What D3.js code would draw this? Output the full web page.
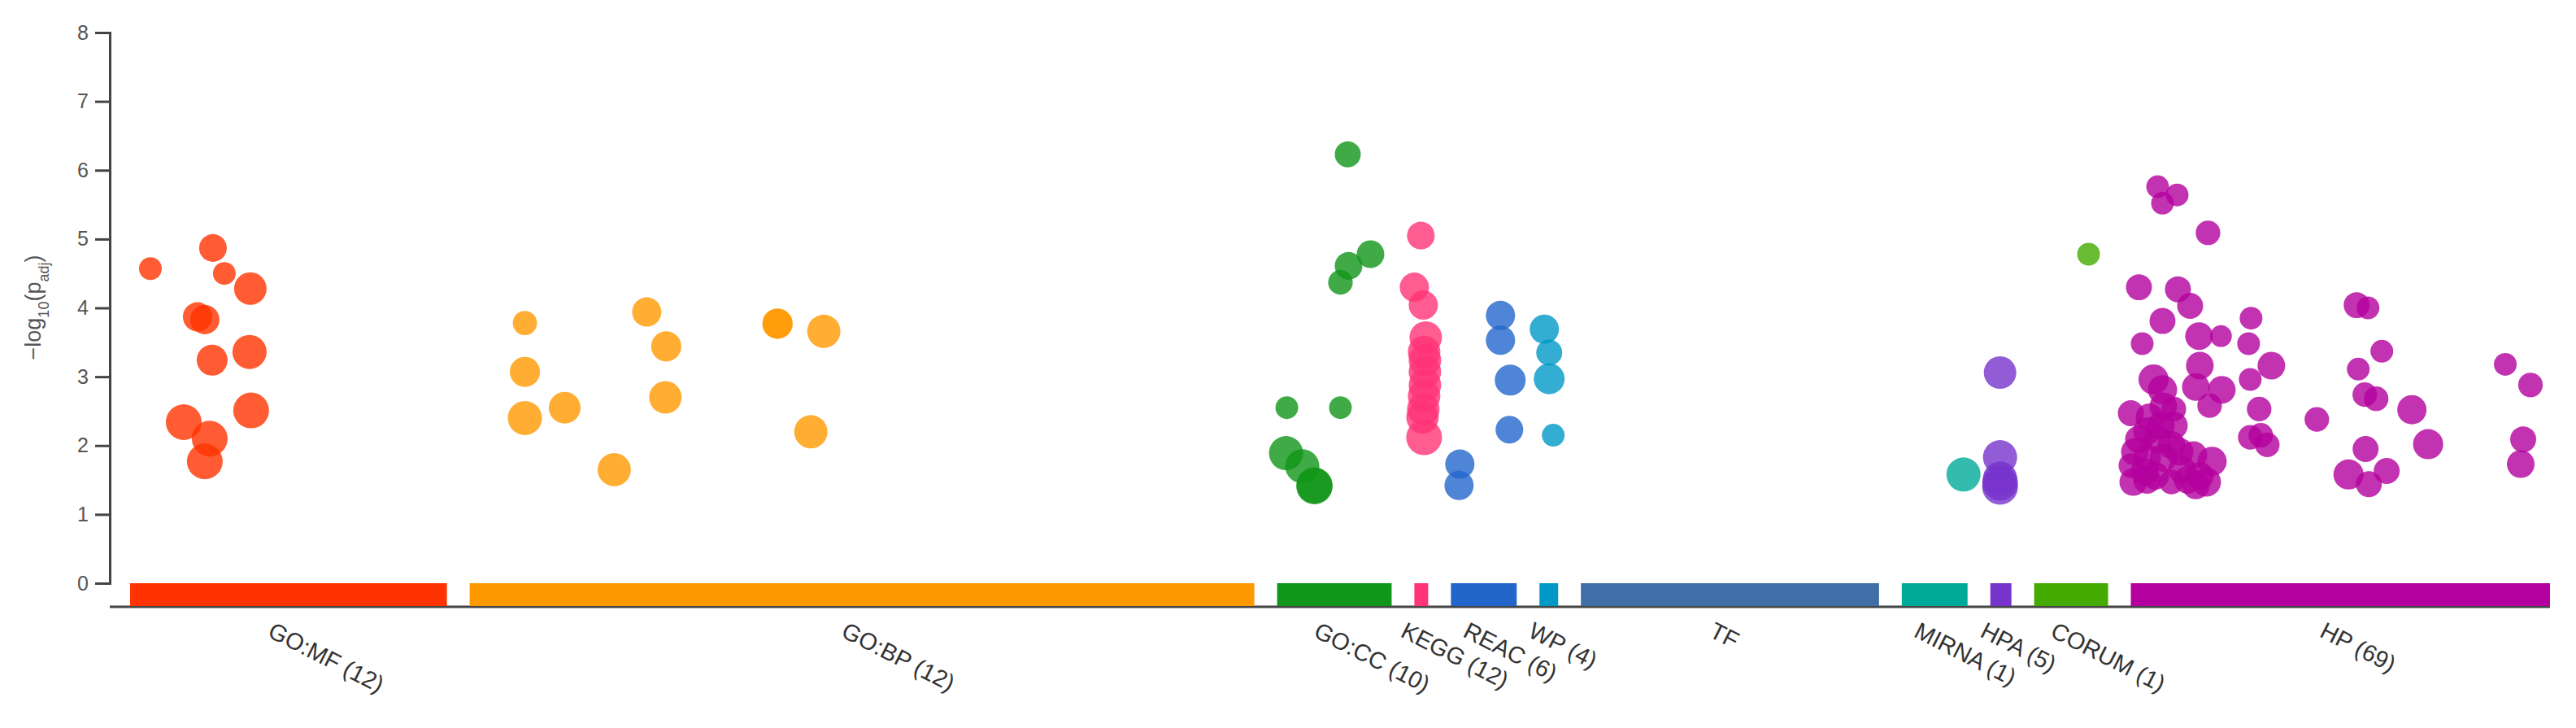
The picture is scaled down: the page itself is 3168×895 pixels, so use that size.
<!DOCTYPE html>
<meta charset="utf-8">
<style>
body { margin: 0; background: #fff; }
text { font-family: "Liberation Sans", Arial, sans-serif; }
.axis path, .axis line { stroke: #444; stroke-width: 3px; }
.axis text { font-size: 25px; fill: #555; }
.dots circle { fill-opacity: 0.8; }
</style>
<svg width="3168" height="895"></svg>
<script src="https://d3js.org/d3.v7.min.js"></script>
<script>

// sources, their term-space widths and the number of significant terms
var sources = ["GO:MF", "GO:BP", "GO:CC", "KEGG", "REAC", "WP", "TF", "MIRNA", "HPA", "CORUM", "HP"];
var sourceSizes = [390, 966, 141, 17, 81, 23, 367, 81, 26, 91, 516];
var sourceCounts = [12, 12, 10, 12, 6, 4, null, 1, 5, 1, 69];
var sourceColors = ["#ff3300", "#ff9900", "#109618", "#ff3377", "#2266cc", "#0099c6",
                    "#3f6fa6", "#00aa99", "#7733cc", "#44aa00", "#b3009e"];
var gap = 28;

// points per source: [position inside source, -log10(p_adj), term size]
var goMF = [[25,4.57,28],[102,4.87,135],[116,4.50,28],[148,4.28,630],[83,3.87,224],[92,3.83,224],
            [101,3.24,380],[147,3.36,1070],[149,2.51,1780],[66,2.34,1780],[98,2.10,1780],[92,1.77,1780]];
var goBP = [[68,3.78,45],[68,3.07,300],[68,2.40,1070],[117,2.55,500],[178,1.65,800],[218,3.94,224],
            [242,3.44,300],[241,2.70,630],[379,3.77,300],[379,3.77,300],[436,3.66,800],[420,2.20,800]];
var goCC = [[87,6.23,79],[115,4.78,135],[88,4.61,135],[78,4.37,50],[12,2.55,28],[78,2.55,28],
            [11,1.89,1070],[31,1.70,1070],[46,1.42,2000],[46,1.41,2000]];
var kegg = [[8,5.05,135],[0,4.30,224],[11,4.04,224],[14,3.57,630],[12,3.36,630],[13,3.07,630],
            [13,2.88,630],[11,2.53,630],[12,2.72,630],[12,2.12,1780],[13,3.24,630],[10,2.41,630]];
var reac = [[61,3.89,224],[61,3.53,224],[73,2.95,380],[72,2.23,135],[11,1.73,224],[10,1.42,224]];
var wp = [[6,3.69,224],[12,3.35,79],[12,2.97,380],[17,2.15,28]];
var tf = [];
var mirna = [[76,1.58,1070]];
var hpa = [[12,3.06,630],[12,1.83,1070],[12,1.46,1780],[12,1.40,1780],[12,1.52,1070]];
var corum = [[67,4.78,28]];
var hp = [[33,5.76,28],[57,5.64,28],[39,5.52,28],[95,5.09,50],[10,4.30,79],[58,4.27,79],[73,4.03,79],
          [39,3.81,79],[148,3.85,28],[14,3.48,28],[84,3.59,135],[111,3.59,20],[145,3.48,28],[85,3.16,135],
          [173,3.16,135],[28,2.96,300],[80,2.85,135],[112,2.81,135],[147,2.96,28],[39,2.81,224],[97,2.58,50],
          [158,2.53,50],[0,2.47,79],[53,2.53,50],[229,2.38,50],[23,2.41,135],[37,2.29,135],[53,2.29,135],
          [10,2.09,135],[33,2.09,135],[50,2.01,135],[147,2.12,50],[160,2.15,50],[168,2.01,50],[0,1.71,50],
          [20,1.82,135],[40,1.82,135],[77,1.86,135],[100,1.77,224],[3,1.47,135],[20,1.50,135],[50,1.47,50],
          [93,1.47,224],[63,1.65,135],[17,1.62,135],[278,4.04,79],[292,4.00,28],[309,3.37,28],[280,3.11,28],
          [288,2.74,50],[302,2.68,50],[346,2.52,224],[366,2.02,300],[289,1.95,79],[268,1.58,300],[293,1.44,79],
          [315,1.63,79],[461,3.18,28],[492,2.88,50],[483,2.09,79],[480,1.73,135],[30,1.56,135],[70,1.50,135],
          [40,2.57,135],[20,2.21,135],[85,1.56,135],[5,1.91,135],[60,1.91,135],[80,1.42,135]];
var points = [goMF, goBP, goCC, kegg, reac, wp, tf, mirna, hpa, corum, hp];

var yTicks = [0, 1, 2, 3, 4, 5, 6, 7, 8];

var svg = d3.select("svg");

// start offset of each source in term space
var starts = [], acc = 0;
sourceSizes.forEach(function(s) { starts.push(acc); acc += s + gap; });
var total = acc - gap;

var x = d3.scaleLinear().domain([0, total]).range([160, 3136]);
var y = d3.scaleLinear().domain([0, 8]).range([717, 40]);
var r = d3.scaleLog().domain([10, 3000]).range([12, 23]).clamp(true);

// y axis
svg.append("g")
    .attr("class", "axis")
    .attr("transform", "translate(135,0)")
    .call(d3.axisLeft(y).tickValues(yTicks).tickSize(18).tickPadding(8).tickFormat(d3.format("d")))
  .selectAll("path").attr("fill", "none");

var ylab = svg.append("text")
    .attr("transform", "translate(50,378) rotate(-90)")
    .attr("text-anchor", "middle")
    .style("font-size", "27px")
    .attr("fill", "#555");
ylab.append("tspan").text("\u2212log");
ylab.append("tspan").attr("baseline-shift", "sub").style("font-size", "18px").text("10");
ylab.append("tspan").text("(p");
ylab.append("tspan").attr("baseline-shift", "sub").style("font-size", "18px").text("adj");
ylab.append("tspan").text(")");

// bottom line
svg.append("line")
    .attr("x1", 135).attr("x2", x(total))
    .attr("y1", 746).attr("y2", 746)
    .attr("stroke", "#444").attr("stroke-width", 3);

// source bars
svg.append("g").selectAll("rect")
    .data(sources)
    .join("rect")
      .attr("x", function(d, i) { return x(starts[i]); })
      .attr("width", function(d, i) { return x(starts[i] + sourceSizes[i]) - x(starts[i]); })
      .attr("y", y(0))
      .attr("height", 745 - y(0))
      .attr("fill", function(d, i) { return sourceColors[d ? i : 0]; });

// source labels
svg.append("g").selectAll("text")
    .data(sources)
    .join("text")
      .attr("transform", function(d, i) {
        return "translate(" + (x(starts[i] + sourceSizes[i] / 2) - 27) + ",782) rotate(27)";
      })
      .style("font-size", "29px")
      .attr("fill", "#333")
      .text(function(d, i) { return sourceCounts[i] == null ? d : d + " (" + sourceCounts[i] + ")"; });

// points
var flat = [];
points.forEach(function(arr, i) {
  arr.forEach(function(p) { flat.push({src: i, pos: p[0], val: p[1], size: p[2]}); });
});

svg.append("g").attr("class", "dots").selectAll("circle")
    .data(flat)
    .join("circle")
      .attr("cx", function(d) { return x(starts[d.src] + d.pos); })
      .attr("cy", function(d) { return y(d.val); })
      .attr("r", function(d) { return r(d.size); })
      .attr("fill", function(d) { return sourceColors[d.src]; });

</script>
